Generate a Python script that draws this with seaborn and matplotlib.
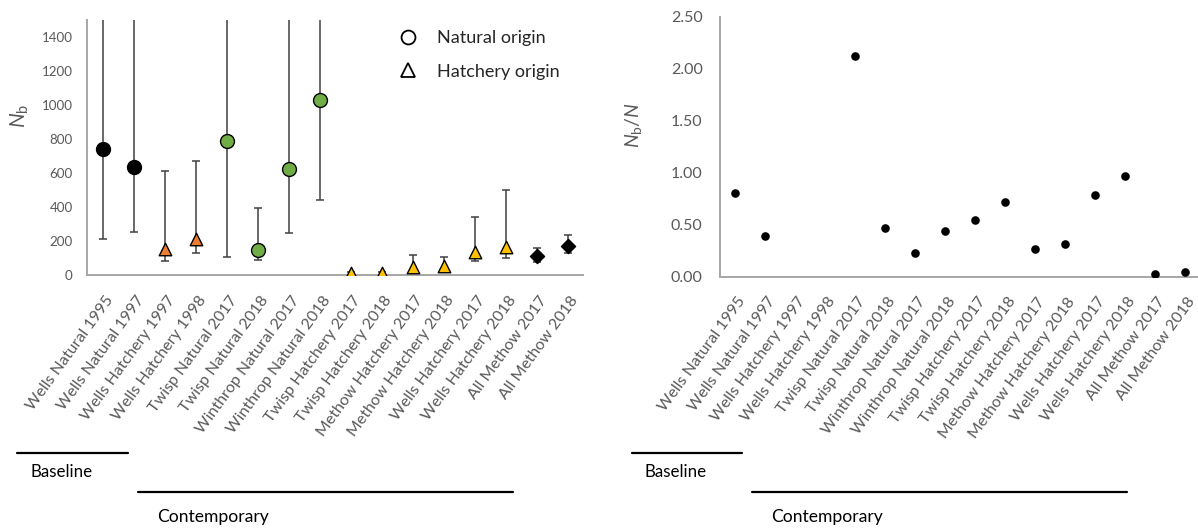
import numpy as np
import pandas as pd
import matplotlib
matplotlib.use("Agg")
import matplotlib.pyplot as plt
import matplotlib.transforms as mtransforms
from matplotlib.lines import Line2D
import seaborn as sns

# ---------------- data ----------------
categories = ["Wells Natural 1995", "Wells Natural 1997", "Wells Hatchery 1997",
              "Wells Hatchery 1998", "Twisp Natural 2017", "Twisp Natural 2018",
              "Winthrop Natural 2017", "Winthrop Natural 2018", "Twisp Hatchery 2017",
              "Twisp Hatchery 2018", "Methow Hatchery 2017", "Methow Hatchery 2018",
              "Wells Hatchery 2017", "Wells Hatchery 2018", "All Methow 2017",
              "All Methow 2018"]
origin = ["Natural", "Natural", "Hatchery", "Hatchery", "Natural", "Natural",
          "Natural", "Natural", "Hatchery", "Hatchery", "Hatchery", "Hatchery",
          "Hatchery", "Hatchery", "All", "All"]
period = ["Baseline", "Baseline", "Baseline", "Baseline", "Contemporary",
          "Contemporary", "Contemporary", "Contemporary", "Contemporary",
          "Contemporary", "Contemporary", "Contemporary", "Contemporary",
          "Contemporary", "All", "All"]
nb = [745, 637, 152, 215, 792, 149, 624, 1029, 12, 11, 51, 55, 139, 168, 114, 172]
nb_low = [215, 254, 86, 129, 106, 92, 250, 442, 4, 4, 25, 30, 86, 100, 78, 129]
nb_high = [2500, 2500, 612, 671, 2500, 397, 2500, 2500, 22, 20, 119, 106, 341, 503, 161, 235]
ratio = [0.80, 0.39, np.nan, np.nan, 2.12, 0.47, 0.23, 0.44, 0.545, 0.72,
         0.27, 0.31, 0.79, 0.97, 0.026, 0.042]

nb_yticks = [0, 200, 400, 600, 800, 1000, 1200, 1400]
ratio_yticks = [0.0, 0.5, 1.0, 1.5, 2.0, 2.5]
legend_labels = ["Natural origin", "Hatchery origin"]

df = pd.DataFrame({"cat": categories, "origin": origin, "period": period,
                   "nb": nb, "lo": nb_low, "hi": nb_high, "ratio": ratio})

# ---------------- style ----------------
sns.set_theme(style="white")
plt.rcParams["font.family"] = ["Lato", "DejaVu Sans"]
plt.rcParams["mathtext.fontset"] = "custom"
plt.rcParams["mathtext.rm"] = "Lato"
plt.rcParams["mathtext.it"] = "Lato:italic"

GRAY_TXT = "#595959"
SPINE = "#A6A6A6"
fills = {("Baseline", "Natural"): "black", ("Baseline", "Hatchery"): "#ED7D31",
         ("Contemporary", "Natural"): "#70AD47", ("Contemporary", "Hatchery"): "#FFC000",
         ("All", "All"): "black"}
markers = {"Natural": "o", "Hatchery": "^", "All": "D"}
msize = {"Natural": 10, "Hatchery": 9.0, "All": 7.2}

W, H = 1198, 529
fig = plt.figure(figsize=(W / 100, H / 100), dpi=100)


def px_axes(x0, y0, x1, y1):
    return fig.add_axes([x0 / W, 1 - y1 / H, (x1 - x0) / W, (y1 - y0) / H])


ax1 = px_axes(87.3, 20.0, 583.3, 275.3)
ax2 = px_axes(720.0, 16.7, 1200.0, 276.7)

# ---------------- left panel ----------------
xpos = np.arange(len(categories))
ax1.errorbar(xpos, df["nb"], yerr=[df["nb"] - df["lo"], df["hi"] - df["nb"]],
             fmt="none", ecolor="#404040", elinewidth=1.1, capsize=2.7,
             capthick=1.1, zorder=1)
for (per, ori), sub in df.groupby(["period", "origin"], sort=False):
    sns.stripplot(data=sub, x="cat", y="nb", order=categories, jitter=False,
                  marker=markers[ori], color=fills[(per, ori)], size=msize[ori],
                  edgecolor="black", linewidth=1.0, ax=ax1, zorder=3)

ax1.set_ylim(0, 1500)
ax1.set_xlim(-0.5, len(categories) - 0.5)
ax1.set_yticks(nb_yticks)
ax1.set_yticklabels([str(v) for v in nb_yticks])
ax1.tick_params(axis="y", length=0, pad=10.5, labelsize=9.6, labelcolor=GRAY_TXT)
ax1.set_xlabel("")
ax1.set_ylabel("")

handles = [Line2D([], [], marker="o", ls="none", markerfacecolor="white",
                  markeredgecolor="black", markeredgewidth=1.3, markersize=10),
           Line2D([], [], marker="^", ls="none", markerfacecolor="white",
                  markeredgecolor="black", markeredgewidth=1.3, markersize=10)]
ax1.legend(handles, legend_labels, loc="upper left", frameon=False,
           bbox_to_anchor=(398 / W, 1 - 30.5 / H), bbox_transform=fig.transFigure,
           fontsize=13, handlelength=1.1, handletextpad=1.05, labelspacing=0.95,
           borderpad=0, borderaxespad=0)

# ---------------- right panel ----------------
sns.stripplot(data=df, x="cat", y="ratio", order=categories, jitter=False,
              marker="o", color="black", size=6.2, linewidth=0, ax=ax2)
ax2.set_ylim(0, 2.5)
ax2.set_xlim(-0.5, len(categories) - 0.5)
ax2.set_yticks(ratio_yticks)
ax2.set_yticklabels([f"{v:.2f}" for v in ratio_yticks])
ax2.tick_params(axis="y", length=0, pad=12.5, labelsize=11.5, labelcolor=GRAY_TXT)
ax2.set_xlabel("")
ax2.set_ylabel("")

shift = mtransforms.ScaledTranslation(2.0 / 100, 0, fig.dpi_scale_trans)
for ax in (ax1, ax2):
    ax.set_xticks(range(len(categories)))
    ax.set_xticklabels(categories, rotation=54, ha="right", va="top",
                       rotation_mode="anchor", color=GRAY_TXT, fontsize=11.5)
    ax.tick_params(axis="x", length=0, pad=13)
    for lab in ax.get_xticklabels():
        lab.set_transform(lab.get_transform() + shift)
    for s in ("top", "right"):
        ax.spines[s].set_visible(False)
    for s in ("left", "bottom"):
        ax.spines[s].set_color(SPINE)
        ax.spines[s].set_linewidth(1.4)
    ax.set_facecolor("none")
    ax.grid(False)

# axis titles
fig.text(20 / W, 1 - 116 / H, r"$\mathit{N}_{\mathrm{b}}$", rotation=90,
         ha="center", va="center", fontsize=15, color=GRAY_TXT)
fig.text(634 / W, 1 - 125 / H, r"$\mathit{N}_{\mathrm{b}}/\mathit{N}$", rotation=90,
         ha="center", va="center", fontsize=14, color=GRAY_TXT)

# period brackets
def hline(x0, x1, y):
    fig.add_artist(Line2D([x0 / W, x1 / W], [1 - y / H, 1 - y / H],
                          color="black", lw=1.6, transform=fig.transFigure))


hline(16.7, 128.3, 453.3)
hline(138.3, 512.7, 491.7)
hline(631.7, 742.3, 453.3)
hline(751.7, 1126.7, 491.7)
fig.text(30.7 / W, 1 - 471.7 / H, "Baseline", ha="left", va="center",
         fontsize=12.2, color="black")
fig.text(156.7 / W, 1 - 516.7 / H, "Contemporary", ha="left", va="center",
         fontsize=12.6, color="black")
fig.text(645 / W, 1 - 471.7 / H, "Baseline", ha="left", va="center",
         fontsize=12.2, color="black")
fig.text(771 / W, 1 - 516.7 / H, "Contemporary", ha="left", va="center",
         fontsize=12.6, color="black")

fig.savefig("out.png", dpi=100, facecolor="white")
